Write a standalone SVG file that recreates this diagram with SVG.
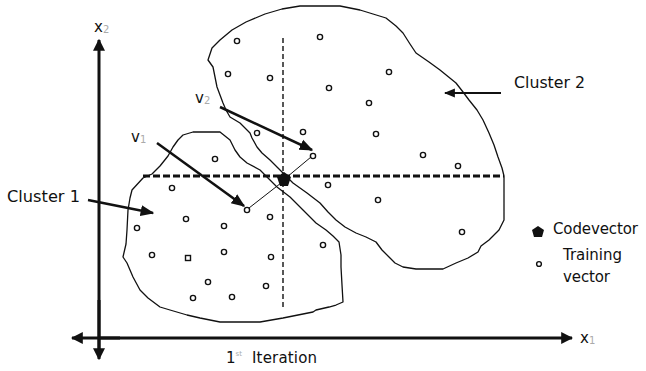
<svg xmlns="http://www.w3.org/2000/svg" width="646" height="371" viewBox="0 0 646 371">
<style>
text{font-family:"DejaVu Sans","Liberation Sans",sans-serif;font-size:15px;fill:#111}
.sub{fill:#aaa;font-size:10px}
.outline{fill:none;stroke:#111;stroke-width:1.3;stroke-linejoin:round}
.tv{fill:#fff;stroke:#111;stroke-width:1.4}
.axis{stroke:#111;stroke-width:3;fill:none}
.arrow{stroke:#111;stroke-width:2.5;fill:none}
.thin{stroke:#111;stroke-width:1;fill:none}
</style>
<defs>
<marker id="ah" viewBox="0 0 10 10" refX="9" refY="5" markerWidth="4" markerHeight="4" orient="auto" markerUnits="strokeWidth">
<path d="M0,0 L10,5 L0,10 Z" fill="#111"/>
</marker>
<marker id="ahb" viewBox="0 0 10 10" refX="9" refY="5" markerWidth="5.5" markerHeight="5.5" orient="auto" markerUnits="strokeWidth">
<path d="M0,1 L10,5 L0,9 Z" fill="#111"/>
</marker>
</defs>
<rect width="646" height="371" fill="#fff"/>

<g id="axes">
<line class="axis" x1="99" y1="354" x2="99" y2="40" marker-end="url(#ah)"/>
<line class="axis" x1="99" y1="300" x2="99" y2="359" marker-end="url(#ah)"/>
<line class="axis" x1="99" y1="338" x2="572" y2="338" marker-end="url(#ah)"/>
<line class="axis" x1="120" y1="338" x2="72" y2="338" marker-end="url(#ah)"/>
<text x="94" y="32" font-size="12">x<tspan class="sub" dy="1">2</tspan></text>
<text x="580" y="343" font-size="12">x<tspan class="sub" dy="1">1</tspan></text>
<text x="226" y="363">1<tspan font-size="7" dy="-7" fill="#aaa">st</tspan><tspan x="252" dy="7" textLength="65" lengthAdjust="spacing">Iteration</tspan></text>
</g>

<g id="cluster2">
<path class="outline" d="M208,60 L212,48 L220,40 L232,30 L246,22 L265,14 L282,9 L300,6 L340,6 L360,10 L386,18 L396,26 L403,33 L410,44 L416,53 L429,62 L440,70 L456,83 L463,92 L469,100 L477,110 L483,120 L489,133 L494,145 L498,157 L502,168 L504,176 L504,220 L499,230 L489,240 L481,246 L478,252 L468,258 L456,263 L443,269 L416,269 L403,267 L395,263 L389,257 L382,250 L376,242 L366,237 L356,233 L345,227 L336,220 L328,212 L320,203 L307,193 L293,183 L283,173 L270,160 L262,153 L257,147 L252,138 L250,133 L240,123 L230,117 L226,110 L223,103 L220,95 L217,87 L215,77 L213,67 Z"/>
<text x="514" y="88" textLength="71" lengthAdjust="spacingAndGlyphs">Cluster 2</text>
</g>

<g id="cluster1">
<path class="outline" d="M143,178 L152,174 L160,166 L168,156 L173,147 L178,140 L183,135 L193,132 L220,132 L230,140 L235,150 L240,157 L247,163 L260,170 L270,180 L277,187 L290,197 L303,210 L316,223 L326,230 L333,236 L339,242 L341,255 L341,267 L342,285 L343,302 L336,305 L329,307 L316,310 L313,312 L298,315 L283,318 L260,322 L220,322 L200,318 L187,315 L170,310 L160,307 L148,298 L140,290 L133,277 L127,263 L123,257 L126,244 L127,230 L128,210 L130,198 L132,190 Z"/>
<text x="7" y="202" textLength="73" lengthAdjust="spacingAndGlyphs">Cluster 1</text>
</g>

<g id="partition">
<line x1="143" y1="176" x2="504" y2="176" stroke="#111" stroke-width="3" stroke-dasharray="7,3"/>
<line x1="283" y1="38" x2="283" y2="310" stroke="#111" stroke-width="1.4" stroke-dasharray="5,3"/>
</g>

<g id="training-vectors">
<circle class="tv" cx="237" cy="41" r="2.6"/>
<circle class="tv" cx="320" cy="37" r="2.6"/>
<circle class="tv" cx="228" cy="74" r="2.6"/>
<circle class="tv" cx="270" cy="78" r="2.6"/>
<circle class="tv" cx="329" cy="88" r="2.6"/>
<circle class="tv" cx="389" cy="72" r="2.6"/>
<circle class="tv" cx="369" cy="103" r="2.6"/>
<circle class="tv" cx="376" cy="134" r="2.6"/>
<circle class="tv" cx="257" cy="133" r="2.6"/>
<circle class="tv" cx="303" cy="132" r="2.6"/>
<circle class="tv" cx="313" cy="156" r="2.6"/>
<circle class="tv" cx="423" cy="155" r="2.6"/>
<circle class="tv" cx="458" cy="166" r="2.6"/>
<circle class="tv" cx="328" cy="185" r="2.6"/>
<circle class="tv" cx="378" cy="200" r="2.6"/>
<circle class="tv" cx="462" cy="232" r="2.6"/>
<circle class="tv" cx="323" cy="245" r="2.6"/>
<circle class="tv" cx="215" cy="159" r="2.6"/>
<circle class="tv" cx="172" cy="188" r="2.6"/>
<circle class="tv" cx="186" cy="219" r="2.6"/>
<circle class="tv" cx="224" cy="226" r="2.6"/>
<circle class="tv" cx="270" cy="217" r="2.6"/>
<circle class="tv" cx="137" cy="228" r="2.6"/>
<circle class="tv" cx="152" cy="255" r="2.6"/>
<rect class="tv" x="185.5" y="255.5" width="5" height="5"/>
<circle class="tv" cx="224" cy="252" r="2.6"/>
<circle class="tv" cx="271" cy="257" r="2.6"/>
<circle class="tv" cx="208" cy="282" r="2.6"/>
<circle class="tv" cx="266" cy="286" r="2.6"/>
<circle class="tv" cx="193" cy="298" r="2.6"/>
<circle class="tv" cx="232" cy="297" r="2.6"/>
<circle class="tv" cx="247" cy="210" r="2.6"/>
</g>

<g id="codevector">
<polygon points="284,172 291,177 288,186 280,186 277,177" fill="#111"/>
</g>

<g id="connectors">
<line class="thin" x1="287" y1="177" x2="311" y2="157"/>
<line class="thin" x1="281" y1="183" x2="249" y2="208"/>
<line class="arrow" x1="220" y1="107" x2="312" y2="150" marker-end="url(#ahb)"/>
<line class="arrow" x1="157" y1="143" x2="244" y2="206" marker-end="url(#ahb)"/>
<line class="arrow" x1="88" y1="200" x2="153" y2="213" marker-end="url(#ahb)"/>
<line x1="501" y1="93" x2="445" y2="93" stroke="#111" stroke-width="2" marker-end="url(#ahb)"/>
<text x="195" y="103" font-size="12">v<tspan class="sub" dy="1">2</tspan></text>
<text x="131" y="142" font-size="12">v<tspan class="sub" dy="1">1</tspan></text>
</g>

<g id="legend">
<polygon points="538,226 544,230 542,237 534,237 532,230" fill="#111"/>
<text x="553" y="234" textLength="85" lengthAdjust="spacing">Codevector</text>
<circle class="tv" cx="539" cy="264" r="2.4"/>
<text x="563" y="260" textLength="59" lengthAdjust="spacing">Training</text>
<text x="563" y="282" textLength="47" lengthAdjust="spacing">vector</text>
</g>
</svg>
